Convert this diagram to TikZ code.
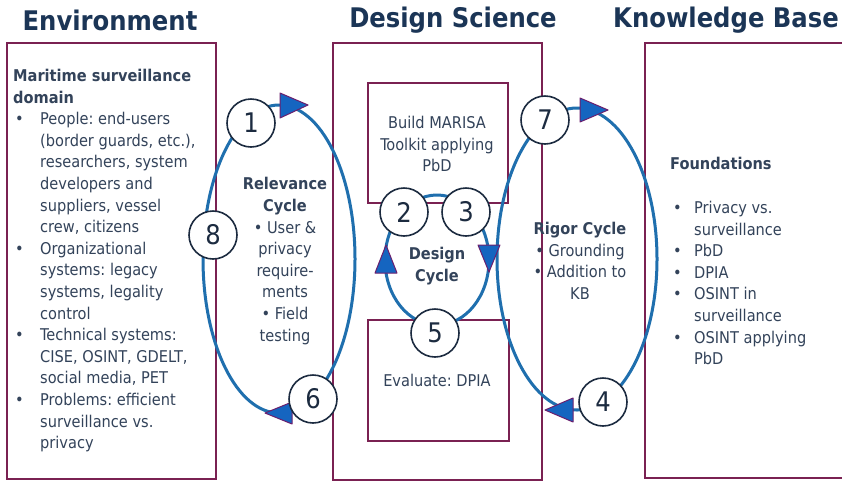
\documentclass[tikz,border=0pt]{standalone}
\usepackage{fontspec}
\setmainfont{DejaVu Sans Condensed}
\frenchspacing
\definecolor{boxcol}{HTML}{7A2152}
\definecolor{cycblue}{HTML}{1F6FAE}
\definecolor{arrblue}{HTML}{1565C0}
\definecolor{arrpurple}{HTML}{6A1F6E}
\definecolor{numcol}{HTML}{1C2B40}
\definecolor{textc}{HTML}{33435A}
\definecolor{titlec}{HTML}{1B3556}
\newcommand{\bulA}{\makebox[27pt][l]{\hspace{2pt}•}}
\newcommand{\indA}{\hspace*{27pt}}
\newcommand{\bulB}{\makebox[23pt][l]{\hspace{2pt}•}}
\newcommand{\indB}{\hspace*{23pt}}
\begin{document}
\begin{tikzpicture}[x=1pt,y=-1pt,
  boxc/.style={draw=boxcol, line width=1.4pt},
  cyc/.style={draw=cycblue, line width=3pt},
  num/.style={circle, draw=numcol, line width=1.6pt, fill=white, minimum size=48pt, inner sep=0pt, font=\fontsize{27}{27}\selectfont, text=numcol},
  tipA/.style={fill=arrblue, draw=arrpurple, line width=1pt, line join=round},
  titleA/.style={font=\fontsize{27}{27}\selectfont\bfseries, text=titlec, inner sep=0pt},
  body/.style={font=\fontsize{16.2}{21.6}\selectfont, text=textc, inner sep=0pt},
]
\useasboundingbox (0,0) rectangle (842,483);
\fill[white] (0,0) rectangle (842,483);
% titles
\node[titleA] (tEnv) at (110,20) {Environment};
\node[titleA] (tDS) at (453,20) {Design Science};
\node[titleA] (tKB) at (726,20) {Knowledge Base};
% boxes
\draw[boxc] (7,43) rectangle (216,479);
\draw[boxc] (333,43) rectangle (542,480);
\draw[boxc] (368,83) rectangle (508,203);
\draw[boxc] (368,320) rectangle (509,441);
\draw[boxc] (846,43) -- (645,43) -- (645,478) -- (846,478);
% cycles
\draw[cyc] (279,259) ellipse [x radius=76pt, y radius=154pt];
\draw[cyc] (577,259) ellipse [x radius=80pt, y radius=151pt];
\draw[cyc] (437,260) ellipse [x radius=52pt, y radius=65pt];
% arrow heads
\filldraw[tipA] (280,93) -- (308,105) -- (280,118) -- cycle;
\filldraw[tipA] (292,402) -- (265,413) -- (292,424) -- cycle;
\filldraw[tipA] (580,98) -- (608,110) -- (580,122) -- cycle;
\filldraw[tipA] (573,398) -- (545,410) -- (573,422) -- cycle;
\filldraw[tipA] (375,273) -- (386,245) -- (397,273) -- cycle;
\filldraw[tipA] (478,245) -- (489,272) -- (500,245) -- cycle;
% numbered circles
\node[num] (n1) at (251,123) {1};
\node[num] (n8) at (213,235) {8};
\node[num] (n6) at (313,399) {6};
\node[num] (n2) at (404,212) {2};
\node[num] (n3) at (466,212) {3};
\node[num] (n5) at (435,333) {5};
\node[num] (n7) at (545,120) {7};
\node[num] (n4) at (603,402) {4};
% texts
\node[body, anchor=north west, align=left] (envtext) at (13,69) {%
\textbf{Maritime surveillance}\\
\textbf{domain}\\
\bulA People: end-users\\
\indA (border guards, etc.),\\
\indA researchers, system\\
\indA developers and\\
\indA suppliers, vessel\\
\indA crew, citizens\\
\bulA Organizational\\
\indA systems: legacy\\
\indA systems, legality\\
\indA control\\
\bulA Technical systems:\\
\indA CISE, OSINT, GDELT,\\
\indA social media, PET\\
\bulA Problems: efficient\\
\indA surveillance vs.\\
\indA privacy};
\node[body, align=center] (reltext) at (285,261) {%
\textbf{Relevance}\\ \textbf{Cycle}\\ • User \&\\ privacy\\ require-\\ ments\\ • Field\\ testing};
\node[body, align=center] (buildtext) at (437,144) {Build MARISA\\ Toolkit applying\\ PbD};
\node[body, align=center] (dctext) at (437,266) {\textbf{Design}\\ \textbf{Cycle}};
\node[body] (evaltext) at (437,380) {Evaluate: DPIA};
\node[body, align=center] (rigtext) at (580,261) {%
\textbf{Rigor Cycle}\\ • Grounding\\ • Addition to\\ KB};
\node[body, anchor=west] (foundt) at (670,163) {\textbf{Foundations}};
\node[body, anchor=north west, align=left] (foundlist) at (671,201) {%
\bulB Privacy vs.\\
\indB surveillance\\
\bulB PbD\\
\bulB DPIA\\
\bulB OSINT in\\
\indB surveillance\\
\bulB OSINT applying\\
\indB PbD};
\end{tikzpicture}
\end{document}
